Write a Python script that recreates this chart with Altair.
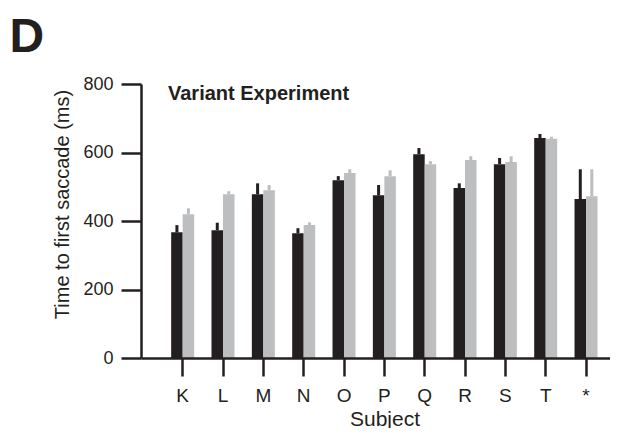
import altair as alt
import pandas as pd

subjects = ["K", "L", "M", "N", "O", "P", "Q", "R", "S", "T", "*"]
conditions = ["Condition 1", "Condition 2"]
cond1_mean = [367, 373, 478, 364, 519, 475, 595, 496, 566, 642, 464]
cond1_upper = [388, 395, 510, 379, 531, 505, 613, 510, 584, 654, 551]
cond2_mean = [420, 478, 490, 388, 540, 531, 566, 578, 572, 640, 472]
cond2_upper = [437, 487, 505, 396, 551, 548, 575, 589, 589, 646, 551]
y_ticks = [0, 200, 400, 600, 800]
panel_label = "D"
panel_title = "Variant Experiment"

rows = []
for i, s in enumerate(subjects):
    rows.append({"Subject": s, "Condition": conditions[0], "mean": cond1_mean[i], "upper": cond1_upper[i]})
    rows.append({"Subject": s, "Condition": conditions[1], "mean": cond2_mean[i], "upper": cond2_upper[i]})
df = pd.DataFrame(rows)

BLACK = "#231f20"
GRAY = "#bcbec0"
FONT = "Liberation Sans"

x_enc = alt.X(
    "Subject:N", sort=subjects,
    scale=alt.Scale(paddingInner=0, paddingOuter=0.3137, align=0.85),
    axis=alt.Axis(
        title="Subject", labelAngle=0, labelFontSize=19, labelPadding=10,
        tickSize=18, tickWidth=2.5, tickColor=BLACK, domainWidth=2.5, domainColor=BLACK,
        titleFontSize=21, titleFontWeight="normal", titleBaseline="alphabetic",
        titleX=243.5, titleY=67, labelColor=BLACK, titleColor=BLACK, zindex=1,
        labelFont=FONT, titleFont=FONT,
    ),
)
xo_enc = alt.XOffset("Condition:N", sort=conditions,
                     scale=alt.Scale(paddingInner=0, paddingOuter=0.753))
color_enc = alt.Color("Condition:N", scale=alt.Scale(domain=conditions, range=[BLACK, GRAY]), legend=None)
y_axis = alt.Axis(
    title="Time to first saccade (ms)", values=y_ticks, grid=False,
    labelFontSize=18, labelPadding=8, tickSize=20, tickWidth=2.5, tickColor=BLACK,
    domainWidth=2.5, domainColor=BLACK, titleFontSize=20, titleFontWeight="normal",
    titleBaseline="alphabetic", titleX=-73, titleY=120,
    labelColor=BLACK, titleColor=BLACK, zindex=1, labelFont=FONT, titleFont=FONT,
)
y_scale = alt.Scale(domain=[0, 800], nice=False)

base = alt.Chart(df)
errs = base.mark_rule(strokeWidth=3).encode(
    x=x_enc, xOffset=xo_enc,
    y=alt.Y("mean:Q", scale=y_scale, axis=y_axis),
    y2="upper:Q", color=color_enc,
)
bars = base.mark_bar().encode(
    x=x_enc, xOffset=xo_enc,
    y=alt.Y("mean:Q", scale=y_scale, axis=y_axis),
    color=color_enc,
)
subtitle = alt.Chart(pd.DataFrame({"t": [panel_title]})).mark_text(
    align="left", baseline="alphabetic", fontSize=20, fontWeight="bold", font=FONT, color=BLACK
).encode(x=alt.value(27), y=alt.value(15.5), text="t:N")
letter = alt.Chart(pd.DataFrame({"t": [panel_label]})).mark_text(
    align="left", baseline="alphabetic", fontSize=48, fontWeight="bold", font=FONT, color=BLACK
).encode(x=alt.value(-131.5), y=alt.value(-32), text="t:N")

chart = alt.layer(errs, bars, subtitle, letter).properties(
    width=469, height=274,
    autosize=alt.AutoSizeParams(type="none"),
    padding={"left": 133, "top": 76, "right": 0, "bottom": 70},
).configure(font=FONT).configure_view(stroke=None)

chart.save("out.html", embed_options={"renderer": "svg", "actions": False})
